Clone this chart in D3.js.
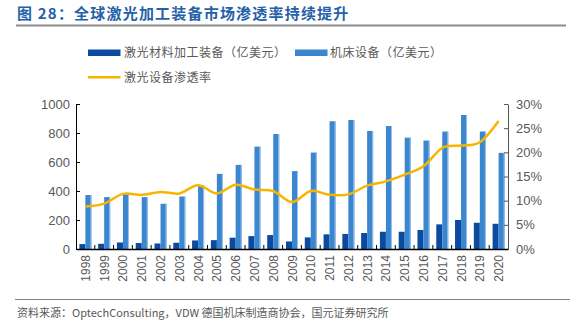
<!DOCTYPE html>
<html>
<head>
<meta charset="utf-8">
<script src="https://cdn.jsdelivr.net/npm/d3@7/dist/d3.min.js"></script>
<style>
  body { margin: 0; background: #fff; }
  svg { display: block; }
</style>
</head>
<body>
<svg id="chart" width="570" height="326"></svg>
<script>
// yearly market figures
const years = ["1998","1999","2000","2001","2002","2003","2004","2005","2006","2007","2008","2009",
  "2010","2011","2012","2013","2014","2015","2016","2017","2018","2019","2020"];
const laserEquip = [34, 36, 45, 41, 38, 43, 59, 61, 78, 89, 96, 52,
  80, 101, 104, 110, 119, 119, 131, 170, 200, 181, 174];
const machineTools = [372, 358, 378, 358, 312, 362, 440, 518, 580, 706, 793, 537,
  665, 881, 890, 814, 848, 768, 748, 810, 924, 810, 663];
const penetration = [8.8, 9.4, 11.4, 11.2, 11.8, 11.5, 13.2, 11.5, 13.3, 12.3, 12.0, 9.7,
  12.0, 11.2, 11.3, 13.1, 14.0, 15.4, 17.1, 20.9, 21.4, 22.1, 26.5];
const leftTicks = [0, 200, 400, 600, 800, 1000];
const rightTicks = [0, 5, 10, 15, 20, 25, 30];

const DARK = "#0b4a9f";
const LIGHT = "#3a86cf";
const GOLD = "#f7b500";
const GREY = "#595959";
const FONT = "'Liberation Sans', Arial, sans-serif";
const CJK = "'Noto Sans CJK SC', sans-serif";

const svg = d3.select("#chart");
const plotL = 76, plotR = 508, plotT = 104, plotB = 249;

const x = d3.scaleBand().domain(years).range([plotL, plotR]);
const y = d3.scaleLinear().domain([0, 1000]).range([plotB, plotT]);
const y2 = d3.scaleLinear().domain([0, 30]).range([plotB, plotT]);

// title + rule
svg.append("text").attr("x", 17).attr("y", 19)
  .attr("font-family", CJK).attr("font-weight", "bold").attr("font-size", 15)
  .attr("letter-spacing", 1.2)
  .attr("fill", "#2461a8").text("图 28：全球激光加工装备市场渗透率持续提升");
svg.append("line").attr("x1", 16).attr("x2", 566).attr("y1", 25.5).attr("y2", 25.5)
  .attr("stroke", "#8c8c8c").attr("stroke-width", 2);

// legend
const lg = svg.append("g").attr("font-family", CJK).attr("font-size", 12)
  .attr("letter-spacing", 0.5).attr("fill", GREY);
lg.append("rect").attr("x", 88).attr("y", 49.5).attr("width", 32.5).attr("height", 6.5).attr("fill", DARK);
lg.append("text").attr("x", 124).attr("y", 57).text("激光材料加工装备（亿美元）");
lg.append("rect").attr("x", 295).attr("y", 49.5).attr("width", 32.5).attr("height", 6.5).attr("fill", LIGHT);
lg.append("text").attr("x", 330).attr("y", 57).text("机床设备（亿美元）");
lg.append("line").attr("x1", 88).attr("x2", 120.5).attr("y1", 77.3).attr("y2", 77.3)
  .attr("stroke", GOLD).attr("stroke-width", 2.5);
lg.append("text").attr("x", 124).attr("y", 81.5).text("激光设备渗透率");

// bars
const bw = 6;
const groups = svg.append("g").selectAll("g").data(years).join("g")
  .attr("transform", d => `translate(${x(d) + x.bandwidth() / 2 - bw},0)`);
groups.append("rect")
  .attr("x", 0).attr("width", bw)
  .attr("y", (d, i) => y(laserEquip[i])).attr("height", (d, i) => plotB - y(laserEquip[i]))
  .attr("fill", DARK);
groups.append("rect")
  .attr("x", bw).attr("width", bw)
  .attr("y", (d, i) => y(machineTools[i])).attr("height", (d, i) => plotB - y(machineTools[i]))
  .attr("fill", LIGHT);
// soft highlight on the right edge of the tool bars
groups.append("rect")
  .attr("x", 2 * bw - 1).attr("width", 1)
  .attr("y", (d, i) => y(machineTools[i])).attr("height", (d, i) => plotB - y(machineTools[i]))
  .attr("fill", "#9cc3ea");

// penetration line
const line = d3.line()
  .x((d, i) => x(years[i]) + x.bandwidth() / 2)
  .y(d => y2(d))
  .curve(d3.curveCardinal.tension(0));
svg.append("path").datum(penetration).attr("d", line)
  .attr("fill", "none").attr("stroke", GOLD).attr("stroke-width", 2.5);

// axes
const axL = svg.append("g").attr("transform", `translate(${plotL},0)`)
  .call(d3.axisRight(y).tickValues(leftTicks).tickSize(4).tickSizeOuter(0).tickFormat(""));
axL.selectAll("line, path").attr("stroke", "#000");
svg.append("g").selectAll("text").data(leftTicks).join("text")
  .attr("x", 70).attr("y", d => y(d) + 4.5).attr("text-anchor", "end")
  .attr("font-family", FONT).attr("font-size", 13).attr("fill", GREY).text(d => d);

const axR = svg.append("g").attr("transform", `translate(${plotR},0)`)
  .call(d3.axisLeft(y2).tickValues(rightTicks).tickSize(4).tickSizeOuter(0).tickFormat(""));
axR.selectAll("line, path").attr("stroke", "#555");
svg.append("g").selectAll("text").data(rightTicks).join("text")
  .attr("x", 516).attr("y", d => y2(d) + 4.5)
  .attr("font-family", FONT).attr("font-size", 13).attr("fill", GREY).text(d => d + "%");

const axB = svg.append("g").attr("transform", `translate(0,${plotB})`)
  .call(d3.axisTop(x).tickSize(0).tickSizeOuter(0).tickFormat(""));
axB.select("path").attr("stroke", "#000").attr("stroke-width", 1.5);
axB.selectAll(".tick").remove();
svg.append("g").selectAll("line").data(years.slice(1)).join("line")
  .attr("x1", d => x(d)).attr("x2", d => x(d))
  .attr("y1", plotB).attr("y2", plotB - 4).attr("stroke", "#000");

svg.append("g").selectAll("text").data(years).join("text")
  .attr("transform", d => `translate(${x(d) + x.bandwidth() / 2 + 4.5},255) rotate(-90)`)
  .attr("text-anchor", "end")
  .attr("font-family", FONT).attr("font-size", 12).attr("fill", GREY).text(d => d);

// source note
svg.append("line").attr("x1", 15).attr("x2", 570).attr("y1", 299.5).attr("y2", 299.5)
  .attr("stroke", "#7f7f7f").attr("stroke-width", 1);
svg.append("text").attr("x", 17).attr("y", 317)
  .attr("font-family", CJK).attr("font-size", 11).attr("fill", GREY)
  .text("资料来源：OptechConsulting，VDW 德国机床制造商协会，国元证券研究所");
</script>
</body>
</html>
